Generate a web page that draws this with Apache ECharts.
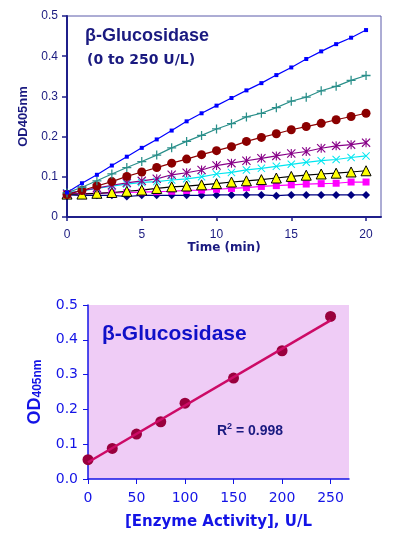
<!DOCTYPE html>
<html>
<head>
<meta charset="utf-8">
<script src="https://cdn.jsdelivr.net/npm/echarts@6/dist/echarts.min.js"></script>
<style>
  html, body { margin: 0; padding: 0; background: #fff; }
  #main { width: 397px; height: 543px; }
</style>
</head>
<body>
<div id="main"></div>
<script>
// top: kinetic curves, one reading per minute
const minutes = [0,1,2,3,4,5,6,7,8,9,10,11,12,13,14,15,16,17,18,19,20]
const u250 = [0.061,0.084,0.105,0.128,0.150,0.172,0.193,0.215,0.238,0.258,0.277,0.296,0.315,0.333,0.353,0.372,0.393,0.412,0.430,0.446,0.465]
const u200 = [0.060,0.074,0.090,0.107,0.123,0.138,0.154,0.172,0.188,0.203,0.219,0.232,0.249,0.258,0.272,0.288,0.298,0.314,0.325,0.340,0.352]
const u150 = [0.056,0.066,0.077,0.088,0.101,0.112,0.123,0.134,0.144,0.155,0.165,0.175,0.188,0.198,0.207,0.217,0.225,0.233,0.242,0.250,0.258]
const u100 = [0.058,0.066,0.072,0.079,0.085,0.090,0.095,0.105,0.110,0.117,0.128,0.134,0.140,0.146,0.152,0.158,0.163,0.171,0.177,0.180,0.185]
const u75 = [0.060,0.065,0.071,0.077,0.082,0.086,0.088,0.092,0.095,0.100,0.107,0.111,0.117,0.121,0.126,0.131,0.136,0.140,0.143,0.148,0.152]
const u50 = [0.057,0.057,0.059,0.061,0.064,0.067,0.071,0.075,0.077,0.080,0.083,0.087,0.090,0.093,0.097,0.101,0.104,0.107,0.109,0.112,0.115]
const u25 = [0.058,0.058,0.059,0.060,0.061,0.062,0.063,0.064,0.066,0.067,0.069,0.071,0.073,0.076,0.078,0.080,0.082,0.083,0.084,0.087,0.087]
const u0 = [0.055,0.054,0.054,0.054,0.051,0.054,0.054,0.054,0.054,0.054,0.055,0.055,0.055,0.055,0.053,0.055,0.055,0.055,0.055,0.055,0.055]
const timeTicks = [0,5,10,15,20]

// bottom: standard curve
const activity = [0,25,50,75,100,150,200,250]
const od = [0.0555,0.088,0.129,0.1645,0.218,0.29,0.3685,0.467]
const fitX = [0,250]
const fitY = [0.048,0.456]
const activityTicks = [0,50,100,150,200,250]

const font = 'Liberation Sans, Arial, sans-serif'
const wide = 'DejaVu Sans, sans-serif'
const navy = '#1a1a80'
const blue = '#1414e6'

const plus = 'path://M4.3,0H5.7V4.3H10V5.7H5.7V10H4.3V5.7H0V4.3H4.3Z'
const cross = 'path://M0,0.9L0.9,0L5,4.1L9.1,0L10,0.9L5.9,5L10,9.1L9.1,10L5,5.9L0.9,10L0,9.1L4.1,5Z'
const star = 'path://M4.4,0H5.6V10H4.4Z M0,0.9L0.9,0L5,4.1L9.1,0L10,0.9L5.9,5L10,9.1L9.1,10L5,5.9L0.9,10L0,9.1L4.1,5Z'

function pairs(xs, ys) {
  return xs.map((x, i) => [x, ys[i]])
}

function kinetic(data, color, symbol, size, extra) {
  return Object.assign({
    type: 'line',
    xAxisIndex: 0,
    yAxisIndex: 0,
    data: pairs(minutes, data),
    symbol: symbol,
    symbolSize: size,
    showAllSymbol: true,
    lineStyle: { color: color, width: 1.2 },
    itemStyle: { color: color }
  }, extra || {})
}

let myChart = echarts.init(document.getElementById('main'))
myChart.setOption({
  animation: false,
  backgroundColor: '#fff',
  title: [
    {
      text: 'β-Glucosidase',
      left: 80, top: 22,
      textStyle: { fontFamily: font, fontSize: 18, fontWeight: 'bold', color: navy }
    },
    {
      text: '(0 to 250 U/L)',
      left: 82, top: 48,
      textStyle: { fontFamily: wide, fontSize: 14, fontWeight: 'bold', color: navy }
    },
    {
      text: 'β-Glucosidase',
      left: 97, top: 319,
      textStyle: { fontFamily: font, fontSize: 21, fontWeight: 'bold', color: '#1010c8' }
    },
    {
      text: '{a|R}{b|2}{a| = 0.998}',
      left: 212, top: 417,
      textStyle: {
        rich: {
          a: { fontFamily: font, fontSize: 14, fontWeight: 'bold', color: navy, verticalAlign: 'bottom', lineHeight: 16 },
          b: { fontFamily: font, fontSize: 9, fontWeight: 'bold', color: navy, verticalAlign: 'top', lineHeight: 16 }
        }
      }
    }
  ],
  grid: [
    { left: 67, top: 16, width: 314, height: 201, show: true, borderColor: '#5a5aaa', borderWidth: 1 },
    { left: 88, top: 305, width: 261, height: 174, show: true, backgroundColor: '#efccf6', borderWidth: 0 }
  ],
  xAxis: [
    {
      gridIndex: 0, type: 'value', min: 0, max: 21,
      name: 'Time (min)', nameLocation: 'middle', nameGap: 25,
      nameTextStyle: { fontFamily: wide, fontSize: 12, fontWeight: 'bold', color: navy },
      axisLine: { lineStyle: { color: '#1f1f8a', width: 2 } },
      axisTick: { show: true, length: 4, customValues: timeTicks, lineStyle: { color: '#1f1f8a', width: 1.5 } },
      axisLabel: { customValues: timeTicks, margin: 12, fontFamily: font, fontSize: 12, color: navy },
      splitLine: { show: false }
    },
    {
      gridIndex: 1, type: 'value', min: 0, max: 269,
      name: '[Enzyme Activity], U/L', nameLocation: 'middle', nameGap: 36,
      nameTextStyle: { fontFamily: wide, fontSize: 15, fontWeight: 'bold', color: blue },
      axisLine: { lineStyle: { color: blue, width: 1.5 } },
      axisTick: { show: true, length: 5, customValues: activityTicks, lineStyle: { color: blue } },
      axisLabel: { customValues: activityTicks, margin: 12, fontFamily: wide, fontSize: 14, color: blue },
      splitLine: { show: false }
    }
  ],
  yAxis: [
    {
      gridIndex: 0, type: 'value', min: 0, max: 0.5, interval: 0.1,
      name: 'OD405nm', nameLocation: 'middle', nameGap: 33, nameRotate: 90,
      nameTextStyle: { fontFamily: font, fontSize: 13, fontWeight: 'bold', color: navy },
      axisLine: { show: true, lineStyle: { color: '#1f1f8a', width: 2 } },
      axisTick: { show: true, length: 5, lineStyle: { color: '#1f1f8a', width: 1.5 } },
      axisLabel: { margin: 9, fontFamily: font, fontSize: 12, color: navy },
      splitLine: { show: false }
    },
    {
      gridIndex: 1, type: 'value', min: 0, max: 0.5, interval: 0.1,
      name: '{a|OD}{b|405nm}', nameLocation: 'middle', nameGap: 44, nameRotate: 90,
      nameTextStyle: {
        rich: {
          a: { fontFamily: font, fontSize: 18, fontWeight: 'bold', color: blue, verticalAlign: 'bottom', lineHeight: 21 },
          b: { fontFamily: font, fontSize: 12, fontWeight: 'bold', color: blue, verticalAlign: 'bottom', lineHeight: 15 }
        }
      },
      axisLine: { show: true, lineStyle: { color: blue, width: 1.5 } },
      axisTick: { show: true, length: 5, lineStyle: { color: blue } },
      axisLabel: { margin: 10, fontFamily: wide, fontSize: 14, color: blue, formatter: v => v.toFixed(1) },
      splitLine: { show: false }
    }
  ],
  series: [
    kinetic(u0, '#000080', 'diamond', 8),
    kinetic(u25, '#ff00ff', 'rect', 7),
    kinetic(u50, '#000000', 'triangle', 10, { itemStyle: { color: '#ffff00', borderColor: '#000', borderWidth: 1 } }),
    kinetic(u75, '#00e6f0', cross, 8),
    kinetic(u100, '#880088', star, 9),
    kinetic(u150, '#8b0000', 'circle', 9),
    kinetic(u200, '#2a8f8a', plus, 9),
    kinetic(u250, '#0000ff', 'rect', 4),
    {
      type: 'line', xAxisIndex: 1, yAxisIndex: 1,
      data: pairs(fitX, fitY),
      symbol: 'none',
      lineStyle: { color: '#cc0a66', width: 2.5 }
    },
    {
      type: 'scatter', xAxisIndex: 1, yAxisIndex: 1,
      data: pairs(activity, od),
      symbolSize: 11,
      itemStyle: { color: '#99003d', opacity: 1 }
    }
  ]
})
</script>
</body>
</html>
